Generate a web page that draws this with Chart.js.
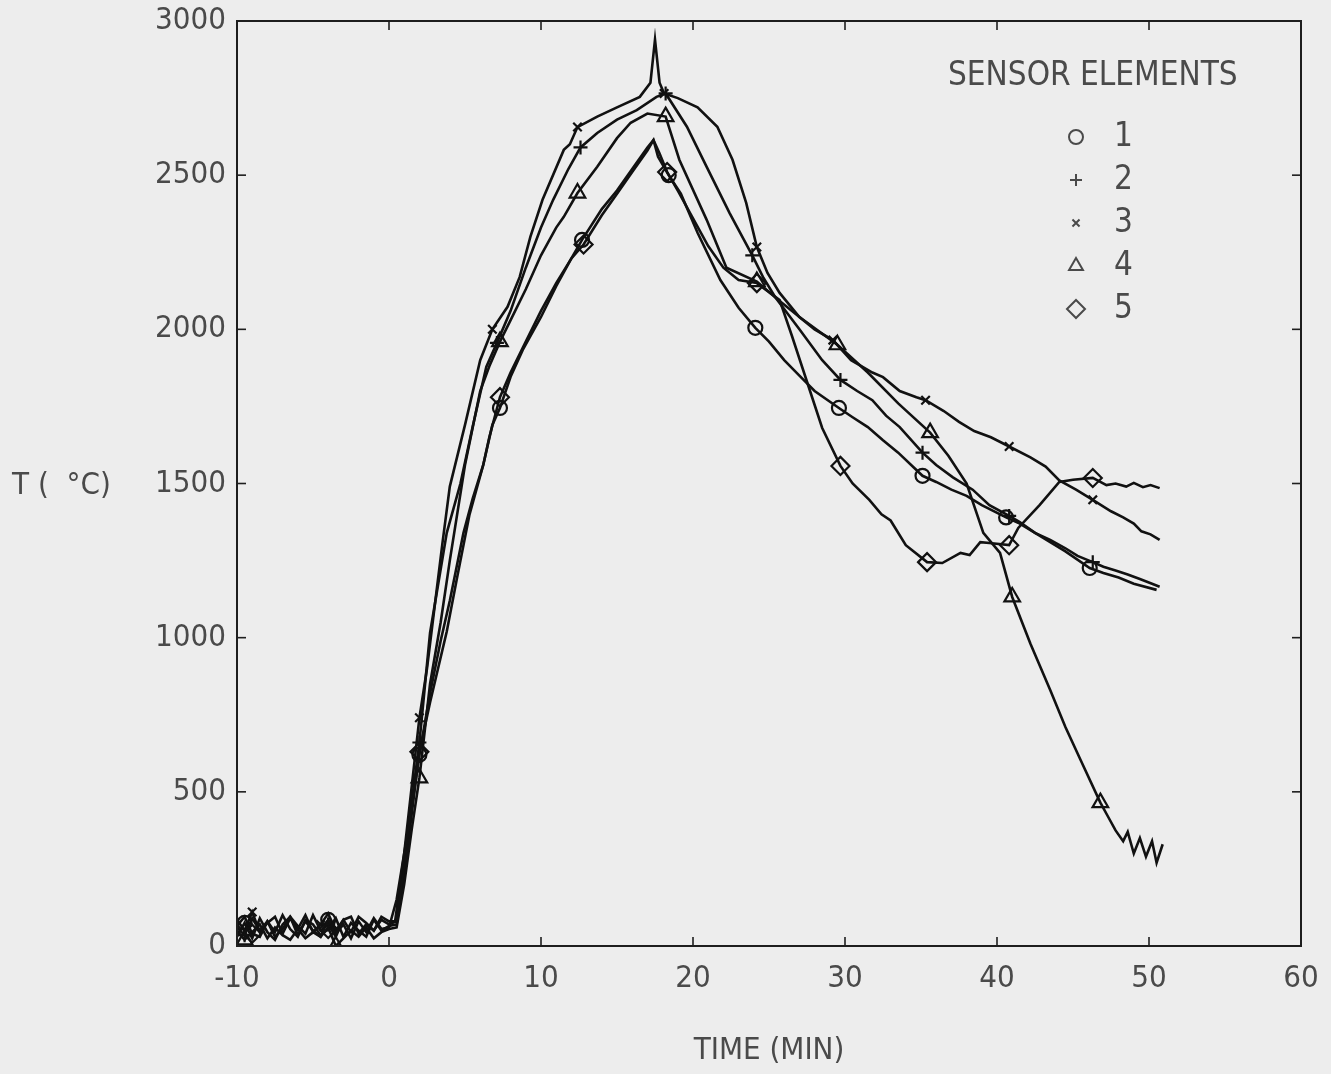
<!DOCTYPE html>
<html><head><meta charset="utf-8">
<script src="https://cdn.jsdelivr.net/npm/chart.js@4.4.1/dist/chart.umd.min.js"></script>
<style>html,body{margin:0;padding:0;background:#ededed;}canvas{display:block;}</style>
</head><body>
<canvas id="c" width="1331" height="1074"></canvas>
<script>
const xTicks = [-10,0,10,20,30,40,50,60];
const yTicks = [0,500,1000,1500,2000,2500,3000];
const seriesLabels = ['1','2','3','4','5'];
const legendTitle = 'SENSOR ELEMENTS';
const xTitle = 'TIME (MIN)';
const yTitle = 'T (  \u00B0C)';

const baseTime = [-10,-9.5,-9,-8.5,-8,-7.5,-7,-6.5,-6,-5.5,-5,-4.5,-4,-3.5,-3,-2.5,-2,-1.5,-1,-0.5,0];

const s1Time = baseTime.concat([0.5,1,1.5,2,2.7,3.4,4,4.9,5.5,6.2,6.8,7.3,8,8.8,10,11,12,12.7,14,15,16,17,17.4,17.7,18.4,19.2,20.3,21.8,23,24.1,25,26,27,28,29.6,30.5,31.5,32.5,33.5,35.1,36,37,38,39,40.6,41.5,42.5,43.5,44.5,46.1,47,48,49,50.5]);
const s1Temp = [30,75,25,90,45,20,70,95,35,80,50,30,85,40,70,25,80,45,90,55,60,
 150,300,450,620,820,990,1120,1340,1450,1560,1690,1745,1846,1933,2040,2140,2230,2290,2390,2450,2520,2590,2614,2560,2500,2440,2313,2160,2070,2005,1960,1900,1850,1800,1745,1715,1683,1640,1600,1525,1505,1480,1460,1430,1390,1370,1340,1310,1280,1226,1210,1195,1175,1155];
const s1Marks = [-9.5,-4,2,7.3,12.7,18.4,24.1,29.6,35.1,40.6,46.1];

const s2Time = baseTime.concat([0.5,1,1.5,2,2.7,3.8,4.7,5.5,6.4,7.1,8,9,10,10.8,11.8,12.6,13.7,15,16.3,17.6,18.2,19.6,20.9,22.4,23.9,24.6,25.4,27,28.5,29.7,30.8,31.8,32.7,33.6,35.1,36,37.1,38.4,39.5,40.8,41.5,42.5,43.5,44.5,45.3,46.3,47,47.8,48.6,49.4,50.2,50.7]);
const s2Temp = [60,35,90,50,80,30,55,95,65,40,100,50,70,30,85,95,40,70,50,85,70,
 80,260,470,660,1015,1340,1500,1683,1878,1956,2060,2200,2330,2420,2520,2590,2637,2680,2711,2754,2765,2657,2527,2378,2240,2170,2105,2000,1900,1836,1800,1770,1720,1683,1600,1560,1520,1480,1430,1395,1375,1340,1317,1290,1265,1245,1230,1218,1205,1190,1175,1165];
const s2Marks = [-9.5,-4,2,7.1,12.6,18.2,23.9,29.7,35.1,40.8,46.3];

const s3Time = baseTime.concat([0.4,1,1.5,2,2.5,3,3.5,4,5,6,6.8,7.8,8.6,9.3,10.1,11.5,11.9,12.4,13.7,15,16.5,17.2,17.5,17.8,18.1,19,20.3,21.6,22.6,23.5,24.2,24.9,25.7,27,28,29.2,30.4,31.8,32.5,33.6,34.7,35.3,36.5,37.5,38.5,39.6,40.8,42.2,43.2,44.1,45.2,46.3,47.5,48.3,49,49.5,50.1,50.7]);
const s3Temp = [85,50,110,45,75,95,40,90,55,100,45,70,105,50,85,45,95,75,50,95,80,
 80,300,520,740,900,1100,1300,1490,1690,1900,2000,2073,2170,2300,2420,2582,2600,2656,2690,2720,2754,2800,2940,2800,2765,2750,2720,2657,2550,2410,2267,2183,2118,2040,2000,1965,1900,1860,1845,1800,1780,1770,1735,1700,1670,1650,1620,1585,1555,1510,1480,1447,1410,1390,1370,1345,1335,1317];
const s3Marks = [-9,-4.5,2,6.8,12.4,18.1,24.2,29.2,35.3,40.8,46.3];

const s4Time = baseTime.concat([0.5,1,1.5,2,2.7,3.4,4,5,6,6.6,7.3,8,9,10,11,11.5,12.4,13.7,15,15.9,17,18.2,19.1,20.9,22.2,24.2,25.5,27,29.5,31.5,33.5,35.6,36.8,38,39.1,40.2,41,42.2,43.5,44.5,45.5,46.8,47.3,47.8,48.3,48.6,49,49.4,49.8,50.2,50.5,50.9]);
const s4Temp = [50,20,45,70,25,60,35,20,55,25,45,30,60,0,25,50,30,60,25,45,55,
 60,200,380,545,850,1050,1250,1560,1800,1880,1960,2030,2130,2240,2330,2365,2442,2527,2620,2670,2700,2690,2550,2355,2200,2155,2100,2040,1950,1860,1760,1665,1590,1500,1340,1275,1132,980,830,710,603,465,420,375,340,370,300,350,290,340,270,330];
const s4Marks = [-9.5,-3.5,2,7.3,12.4,18.2,24.2,29.5,35.6,41,46.8];

const s5Time = baseTime.concat([0.5,1,1.5,2,2.7,3.8,4.5,5.3,6.2,6.6,7.3,8,9,10,11,12,12.8,14,15,16,17,17.4,17.8,18.3,19,20,21,22,23,24.2,25.7,26.5,27.5,28.5,29.7,30.5,31.6,32.4,33,34,35.4,36.4,37.6,38.2,38.9,39.5,40.8,41.4,42.8,44.1,45,46.3,47.2,47.8,48.5,49,49.6,50.1,50.7]);
const s5Temp = [65,95,40,30,80,45,100,55,30,85,70,35,55,90,30,75,50,30,85,50,65,
 70,230,430,630,790,1020,1200,1400,1560,1650,1780,1860,1960,2060,2150,2230,2275,2370,2440,2510,2580,2614,2570,2510,2450,2360,2270,2200,2160,2150,2095,1980,1830,1680,1557,1500,1447,1400,1380,1300,1245,1242,1275,1268,1310,1307,1300,1356,1430,1505,1512,1518,1495,1500,1490,1502,1488,1495,1485];
const s5Marks = [-9,-4,2,7.3,12.8,18.3,24.2,29.7,35.4,40.8,46.3];

const FAM = "'Liberation Sans Narrow','DejaVu Sans Condensed','Liberation Sans',sans-serif";
const TEXT = '#4a4a4a';
const LINE = '#111111';

const styles = ['circle','cross','crossRot','triangle','rectRot'];
const radii = [7,7,6,9,9];
const series = [
  [s1Time,s1Temp,s1Marks],[s2Time,s2Temp,s2Marks],[s3Time,s3Temp,s3Marks],[s4Time,s4Temp,s4Marks],[s5Time,s5Temp,s5Marks]
];

const datasets = series.map((s,i)=>({
  label: seriesLabels[i],
  data: s[0].map((t,k)=>({x:t,y:s[1][k]})),
  borderColor: LINE,
  borderWidth: 2.6,
  pointStyle: styles[i],
  pointBorderColor: LINE,
  pointBackgroundColor: 'rgba(0,0,0,0)',
  pointBorderWidth: 2.2,
  pointRadius: ctx => (ctx.raw && s[2].some(m=>Math.abs(m-ctx.raw.x)<1e-6)) ? radii[i] : 0,
  pointHoverRadius: 0,
  tension: 0,
  fill: false
}));

const decor = {
  id:'decor',
  afterDraw(chart){
    const {ctx, chartArea:a, scales:{x,y}} = chart;
    ctx.save();
    ctx.strokeStyle = '#1e1e1e';
    ctx.lineWidth = 2;
    ctx.strokeRect(a.left, a.top, a.right-a.left, a.bottom-a.top);
    ctx.lineWidth = 1.6;
    const seg=(x1,y1,x2,y2)=>{ctx.beginPath();ctx.moveTo(x1,y1);ctx.lineTo(x2,y2);ctx.stroke();};
    x.ticks.forEach(t=>{const p=x.getPixelForValue(t.value); if(p<=a.left+2||p>=a.right-2)return; seg(p,a.bottom,p,a.bottom-9); seg(p,a.top,p,a.top+9);});
    y.ticks.forEach(t=>{const p=y.getPixelForValue(t.value); if(p<=a.top+2||p>=a.bottom-2)return; seg(a.left,p,a.left+9,p); seg(a.right,p,a.right-9,p);});
    ctx.fillStyle = TEXT;
    ctx.font = `31px ${FAM}`;
    ctx.textAlign = 'left'; ctx.textBaseline = 'middle';
    ctx.fillText(yTitle, 12, 486);
    ctx.font = `33px ${FAM}`;
    ctx.fillText(legendTitle, 948, 76);
    chart.data.datasets.forEach((d,i)=>{
      const yy = 137 + i*43;
      ctx.strokeStyle = TEXT; ctx.fillStyle='rgba(0,0,0,0)'; ctx.lineWidth = 2;
      Chart.helpers.drawPoint(ctx,{pointStyle:d.pointStyle, radius:[7,6,5,8,9][i], rotation:0, borderWidth:2}, 1076, yy);
      ctx.fillStyle = TEXT;
      ctx.fillText(d.label, 1114, yy);
    });
    ctx.restore();
  }
};

new Chart(document.getElementById('c'), {
  type:'line',
  data:{datasets},
  plugins:[decor],
  options:{
    responsive:false,
    animation:false,
    layout:{padding:{top:21,right:30,left:0,bottom:0}},
    plugins:{legend:{display:false},tooltip:{enabled:false}},
    scales:{
      x:{type:'linear',min:-10,max:60,
        afterBuildTicks:s=>{s.ticks = xTicks.map(v=>({value:v}));},
        afterFit:s=>{s.height=128; s.paddingLeft=0; s.paddingRight=0;},
        grid:{display:false}, border:{display:false},
        ticks:{color:TEXT,font:{family:FAM,size:31},padding:6,maxRotation:0,autoSkip:false,callback:v=>String(v)},
        title:{display:true,text:xTitle,color:TEXT,font:{family:FAM,size:31},padding:{top:0,bottom:4}}
      },
      y:{type:'linear',min:0,max:3000,
        afterBuildTicks:s=>{s.ticks = yTicks.map(v=>({value:v}));},
        afterFit:s=>{s.width=237; s.paddingTop=0; s.paddingBottom=0;},
        grid:{display:false}, border:{display:false},
        ticks:{color:TEXT,font:{family:FAM,size:31},padding:3,autoSkip:false,callback:v=>String(v)}
      }
    }
  }
});
</script>
</body></html>
